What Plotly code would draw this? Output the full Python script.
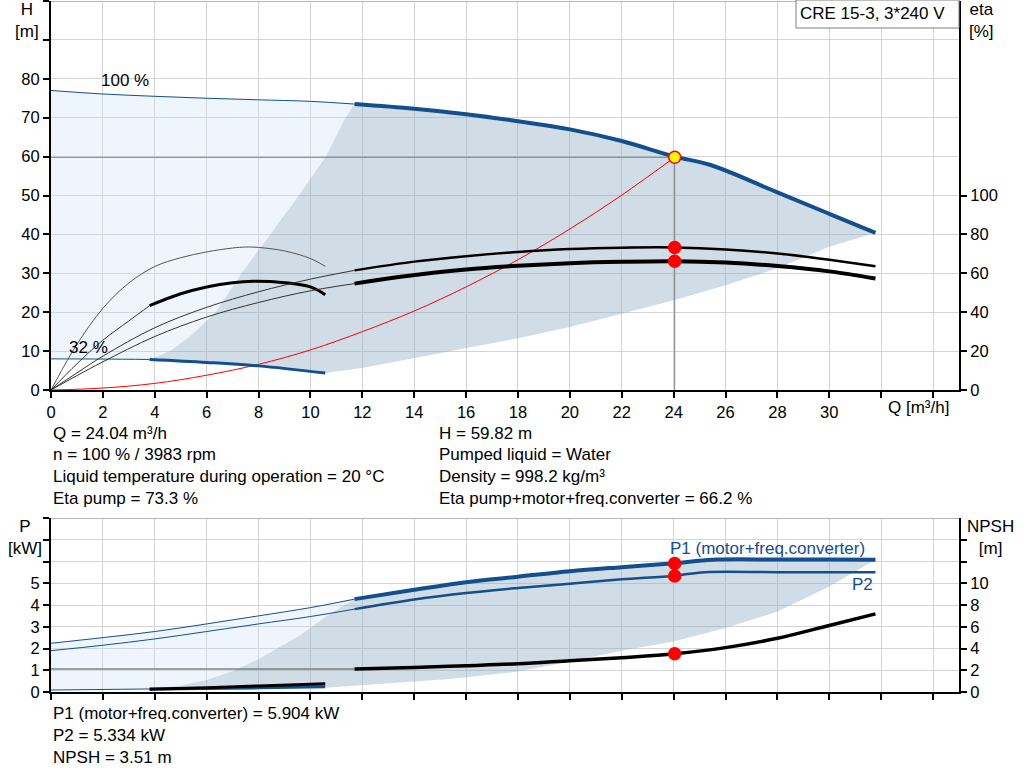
import plotly.graph_objects as go

W, H = 1024, 781
FONT = 'Liberation Sans, Arial, sans-serif'
BLUE = '#124f8c'

# duty point
q_duty = 24.04
h_duty = 59.82
eta_pump_duty = 73.3
eta_total_duty = 66.2
p1_duty = 5.904
p2_duty = 5.334
npsh_duty = 3.51

# head curves [m]
q_h100_thin = [0, 2, 4, 6, 8, 10, 11.7]
h100_thin = [77.0, 76.1, 75.5, 75.0, 74.6, 74.2, 73.5]
q_h100 = [11.7, 14, 16, 18, 20, 22, 24.04, 25.4, 28, 30, 31.78]
h100 = [73.5, 72.3, 70.9, 69.1, 67.0, 64.0, 60.0, 57.9, 50.8, 45.3, 40.4]
q_h32_thin = [0, 2, 3.8]
h32_thin = [8.0, 7.95, 7.85]
q_h32 = [3.8, 6, 8, 10.57]
h32 = [7.85, 7.1, 6.2, 4.35]

# operating range limits in the H chart
q_minflow = [3.8, 4.6, 5.4, 6.35, 7.35, 8.45, 9.55, 10.6, 11.35, 11.7]
h_minflow = [7.85, 10, 14, 20, 30, 40, 50, 60, 70, 73.5]
q_lower = [10.57, 12.1, 14, 16, 18, 20, 22, 24, 26, 28, 30, 31.78]
h_lower = [4.35, 5.8, 8.3, 10.8, 13.3, 16.2, 19.6, 23.1, 26.9, 31.3, 36.8, 40.4]

# efficiency curves [%]
q_etap100_thin = [0, 1, 2, 4, 6, 8, 10, 11.7]
etap100_thin = [0, 8.8, 17.4, 32, 42.5, 50.5, 57, 61.5]
q_etap100 = [11.7, 14, 16, 18, 20, 22, 24.04, 26, 28, 30, 31.78]
etap100 = [61.5, 66, 68.8, 71, 72.5, 73.2, 73.3, 72.3, 70.2, 67, 63.6]
q_etat100_thin = [0, 1, 2, 4, 6, 8, 10, 11.7]
etat100_thin = [0, 7.4, 14.5, 27.5, 37.5, 45, 51, 54.7]
q_etat100 = [11.7, 13.4, 16, 18, 20, 22, 24.04, 26, 28, 30, 31.78]
etat100 = [54.7, 58.1, 62.0, 63.9, 65.2, 65.9, 66.2, 65.5, 63.7, 61, 57.3]
q_etap32 = [0, 0.5, 1, 2, 3, 4, 5, 6, 7, 7.5, 8, 9, 10, 10.57]
etap32 = [0, 12.2, 23.5, 42, 55, 63.5, 68, 71, 73, 73.5, 73.3, 71.5, 67.6, 63.6]
q_etat32_thin = [0, 1, 2, 3, 3.8]
etat32_thin = [0, 13.5, 25.6, 35.5, 43.4]
q_etat32 = [3.8, 5, 6, 7, 7.8, 9, 10, 10.57]
etat32 = [43.4, 49.5, 53, 55.2, 55.9, 55.2, 53, 49]

# system curve through duty point
q_sys = [0, 2, 4, 6, 8, 10, 12, 14, 16, 18, 20, 22, 24.04]
h_sys = [0, 0.5, 1.7, 3.8, 6.6, 10.3, 15.0, 20.3, 26.5, 33.5, 41.4, 50.1, 59.82]

# power curves [kW]
q_p1_thin = [0, 2, 4, 6, 8, 10, 11.7]
p1_thin = [2.24, 2.5, 2.78, 3.13, 3.5, 3.88, 4.27]
q_p1 = [11.7, 14, 16, 18, 20, 22, 24.04, 25.5, 28, 30, 31.78]
p1 = [4.27, 4.7, 5.05, 5.3, 5.55, 5.74, 5.92, 6.08, 6.09, 6.09, 6.08]
q_p2_thin = [0, 2, 4, 6, 8, 10, 11.7]
p2_thin = [1.9, 2.15, 2.44, 2.78, 3.13, 3.47, 3.81]
q_p2 = [11.7, 14, 16, 18, 20, 22, 24.04, 25.2, 28, 31.78]
p2 = [3.81, 4.25, 4.55, 4.78, 4.98, 5.18, 5.35, 5.51, 5.51, 5.51]
q_p32_thin = [0, 3.8]
p32_thin = [0.09, 0.14]
q_p32 = [3.8, 6, 8, 10.57]
p32 = [0.14, 0.16, 0.19, 0.24]

# NPSH curves [m]
q_npsh_thin = [0, 11.7]
npsh_thin = [2.12, 2.12]
q_npsh = [11.7, 14, 16, 18, 20, 22, 24.04, 26, 28, 30, 31.78]
npsh = [2.12, 2.25, 2.42, 2.6, 2.88, 3.16, 3.51, 4.08, 4.94, 6.12, 7.18]
q_npsh32 = [3.8, 6, 8, 10.57]
npsh32 = [0.26, 0.4, 0.56, 0.77]

# operating range limits in the P chart
q_pmin = [3.8, 5, 6, 7, 8, 9, 9.6, 10.6, 11.7]
p_pmin = [0.14, 0.3, 0.55, 0.95, 1.5, 2.2, 2.6, 3.47, 4.27]
q_plow = [10.57, 12, 14, 15.36, 16, 18, 20, 22, 24, 26, 28, 30, 31.78]
p_plow = [0.2, 0.3, 0.48, 0.6, 0.68, 0.94, 1.4, 1.9, 2.32, 2.94, 3.7, 4.85, 6.08]

q_ticks = list(range(0, 36, 2))
q_labels = [str(v) if v <= 30 else '' for v in q_ticks]

info_left = ['Q = 24.04 m³/h', 'n = 100 % / 3983 rpm',
             'Liquid temperature during operation = 20 °C', 'Eta pump = 73.3 %']
info_right = ['H = 59.82 m', 'Pumped liquid = Water', 'Density = 998.2 kg/m³',
              'Eta pump+motor+freq.converter = 66.2 %']
info_bottom = ['P1 (motor+freq.converter) = 5.904 kW', 'P2 = 5.334 kW', 'NPSH = 3.51 m']


def line(x, y, color, width, xa='x', ya='y', shape='spline'):
    return go.Scatter(x=x, y=y, mode='lines', xaxis=xa, yaxis=ya,
                      line=dict(color=color, width=width, shape=shape),
                      hoverinfo='skip', showlegend=False)


def area(x, y, color, xa='x', ya='y'):
    return go.Scatter(x=x, y=y, mode='lines', fill='toself', fillcolor=color,
                      line=dict(width=0), xaxis=xa, yaxis=ya,
                      hoverinfo='skip', showlegend=False)


def dots(x, y, xa, ya, fill='#ff0000', size=12):
    return go.Scatter(x=x, y=y, mode='markers', xaxis=xa, yaxis=ya,
                      marker=dict(color=fill, size=size, line=dict(color='#ff0000', width=1.5)),
                      hoverinfo='skip', showlegend=False)


def note(x, y, text, color='#000000', xanchor='left', size=17):
    return dict(x=x / W, y=1 - y / H, xref='paper', yref='paper', text=text,
                showarrow=False, xanchor=xanchor, yanchor='middle', align='center',
                font=dict(family=FONT, size=size, color=color))


LIGHT = 'rgba(198,222,245,0.3)'
DARK = 'rgba(138,168,193,0.4)'

fig = go.Figure()

# H chart
fig.add_trace(area(q_h100_thin + q_minflow[::-1] + q_h32_thin[::-1],
                   h100_thin + h_minflow[::-1] + h32_thin[::-1], LIGHT))
fig.add_trace(area(q_h100 + q_lower[::-1] + q_h32[::-1] + q_minflow,
                   h100 + h_lower[::-1] + h32[::-1] + h_minflow, DARK))
fig.add_trace(line([0, q_duty], [h_duty, h_duty], '#808080', 1, shape='linear'))
fig.add_trace(line([q_duty, q_duty], [0, h_duty], '#808080', 1, shape='linear'))
fig.add_trace(line(q_sys, h_sys, '#ff0000', 1))
fig.add_trace(line(q_h100_thin, h100_thin, BLUE, 1))
fig.add_trace(line(q_h100, h100, BLUE, 4))
fig.add_trace(line(q_h32_thin, h32_thin, BLUE, 1))
fig.add_trace(line(q_h32, h32, BLUE, 3))
fig.add_trace(line(q_etap32, etap32, '#555555', 1, ya='y2'))
fig.add_trace(line(q_etat32_thin, etat32_thin, '#333333', 1, ya='y2'))
fig.add_trace(line(q_etat32, etat32, '#000000', 3, ya='y2'))
fig.add_trace(line(q_etap100_thin, etap100_thin, '#333333', 1, ya='y2'))
fig.add_trace(line(q_etap100, etap100, '#000000', 2.5, ya='y2'))
fig.add_trace(line(q_etat100_thin, etat100_thin, '#333333', 1, ya='y2'))
fig.add_trace(line(q_etat100, etat100, '#000000', 4, ya='y2'))
fig.add_trace(dots([q_duty, q_duty], [eta_pump_duty, eta_total_duty], 'x', 'y2'))
fig.add_trace(dots([q_duty], [h_duty], 'x', 'y', fill='#ffff00', size=12))

# P / NPSH chart
fig.add_trace(area(q_p1_thin + q_pmin[::-1] + q_p32_thin[::-1],
                   p1_thin + p_pmin[::-1] + p32_thin[::-1], LIGHT, 'x2', 'y3'))
fig.add_trace(area(q_p1 + q_plow[::-1] + q_p32[::-1] + q_pmin,
                   p1 + p_plow[::-1] + p32[::-1] + p_pmin, DARK, 'x2', 'y3'))
fig.add_trace(line(q_npsh_thin, npsh_thin, '#808080', 1.5, 'x2', 'y4', 'linear'))
fig.add_trace(line(q_p32_thin, p32_thin, BLUE, 1, 'x2', 'y3'))
fig.add_trace(line(q_p32, p32, BLUE, 3, 'x2', 'y3'))
fig.add_trace(line(q_npsh32, npsh32, '#000000', 3, 'x2', 'y4'))
fig.add_trace(line(q_p1_thin, p1_thin, BLUE, 1, 'x2', 'y3'))
fig.add_trace(line(q_p1, p1, BLUE, 4, 'x2', 'y3'))
fig.add_trace(line(q_p2_thin, p2_thin, BLUE, 1, 'x2', 'y3'))
fig.add_trace(line(q_p2, p2, BLUE, 2.5, 'x2', 'y3'))
fig.add_trace(line(q_npsh, npsh, '#000000', 3.5, 'x2', 'y4'))
fig.add_trace(dots([q_duty, q_duty], [p1_duty, p2_duty], 'x2', 'y3'))
fig.add_trace(dots([q_duty], [npsh_duty], 'x2', 'y4'))

axis_common = dict(showline=True, linecolor='#000000', linewidth=2, ticks='outside',
                   ticklen=6, tickcolor='#000000', tickwidth=1.5, zeroline=False,
                   automargin=False,
                   tickfont=dict(family=FONT, size=16.5, color='#000000'))
grid = dict(showgrid=True, gridcolor='#d4d4d4', gridwidth=1)
x_dom = [51 / W, 959 / W]
top_dom = [1 - 390 / H, 1 - 1 / H]
bot_dom = [1 - 692 / H, 1 - 518 / H]

fig.update_layout(
    width=W, height=H,
    margin=dict(l=0, r=0, t=0, b=0, pad=0, autoexpand=False),
    paper_bgcolor='white', plot_bgcolor='white',
    showlegend=False,
    xaxis=dict(domain=x_dom, anchor='y', range=[0, 35], tickvals=q_ticks, ticktext=q_labels,
               **axis_common, **grid),
    yaxis=dict(domain=top_dom, anchor='x', range=[0, 100], tickvals=list(range(0, 101, 10)),
               ticktext=[str(v) if v <= 80 else '' for v in range(0, 101, 10)],
               **axis_common, **grid),
    yaxis2=dict(overlaying='y', anchor='x', side='right', range=[0, 200],
                tickvals=list(range(0, 101, 20)), showgrid=False, **axis_common),
    xaxis2=dict(domain=x_dom, anchor='y3', range=[0, 35], tickvals=q_ticks,
                showticklabels=False, **axis_common, **grid),
    yaxis3=dict(domain=bot_dom, anchor='x2', range=[0, 8], tickvals=list(range(0, 9)),
                ticktext=[str(v) if v <= 5 else '' for v in range(0, 9)],
                **axis_common, **grid),
    yaxis4=dict(overlaying='y3', anchor='x2', side='right', range=[0, 16],
                tickvals=list(range(0, 15, 2)),
                ticktext=[str(v) if v <= 10 else '' for v in range(0, 15, 2)],
                showgrid=False, **axis_common),
)

fig.add_shape(type='line', xref='x', yref='y', x0=0, x1=35, y0=100, y1=100,
              line=dict(color='#a0a0a0', width=1.5))
fig.add_shape(type='line', xref='x2', yref='y3', x0=0, x1=35, y0=8, y1=8,
              line=dict(color='#a0a0a0', width=1.5))
fig.add_shape(type='rect', xref='paper', yref='paper', x0=796 / W, x1=959 / W,
              y0=1 - 28 / H, y1=1, line=dict(color='#808080', width=1), fillcolor='white')

notes = [
    note(27, 20, 'H<br>[m]', xanchor='center'),
    note(981, 20, 'eta<br>[%]', xanchor='center'),
    note(918, 407, 'Q [m³/h]', xanchor='center'),
    note(25, 537, 'P<br>[kW]', xanchor='center'),
    note(990, 537, 'NPSH<br>[m]', xanchor='center'),
    note(125, 81, '100 %', xanchor='center'),
    note(88, 347, '32 %', xanchor='center'),
    note(872, 14, 'CRE 15-3, 3*240 V', xanchor='center'),
    note(767, 548, 'P1 (motor+freq.converter)', color=BLUE, xanchor='center'),
    note(862, 584, 'P2', color=BLUE, xanchor='center'),
]
for i, t in enumerate(info_left):
    notes.append(note(51, 433 + i * 21.7, t))
for i, t in enumerate(info_right):
    notes.append(note(437, 433 + i * 21.7, t))
for i, t in enumerate(info_bottom):
    notes.append(note(51, 713 + i * 22, t))
fig.update_layout(annotations=notes)

# the page body has a default margin; remove it so the figure sits at 0,0
fig.write_html('out.html', config={'displayModeBar': False},
               post_script="document.body.style.margin='0';document.body.style.overflow='hidden';")
